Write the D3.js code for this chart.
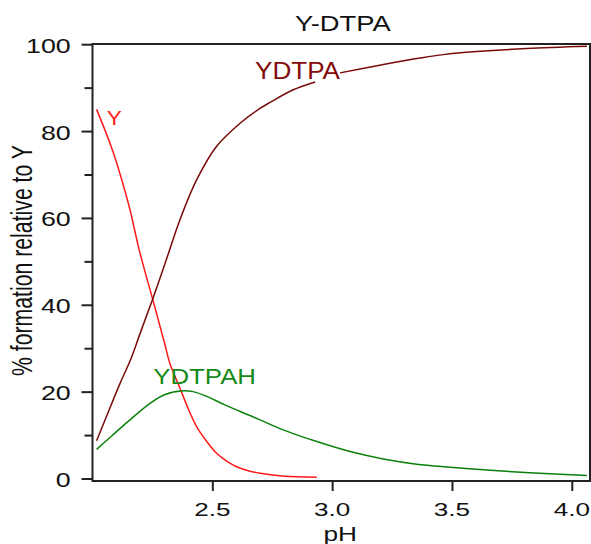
<!DOCTYPE html>
<html>
<head>
<meta charset="utf-8">
<script src="https://cdn.jsdelivr.net/npm/d3@7"></script>
<style>
  html, body { margin: 0; padding: 0; background: #fff; }
  svg { display: block; }
  text { font-family: "Liberation Sans", Arial, sans-serif; }
</style>
</head>
<body>
<svg id="chart" width="591" height="544"></svg>
<script>
// ---- data ----
const title = "Y-DTPA";
const xLabel = "pH";
const yLabel = "% formation relative to Y";
const xTicks = [2.5, 3.0, 3.5, 4.0];
const yTicks = [0, 20, 40, 60, 80, 100];
const yMinorTicks = [10, 30, 50, 70, 90];

const phY  = [2.017, 2.05, 2.087, 2.122, 2.156, 2.195, 2.251, 2.3, 2.323, 2.365, 2.4, 2.435, 2.48, 2.518, 2.56, 2.602, 2.65, 2.7, 2.8, 2.936];
const valY = [85, 80.5, 75, 68.8, 62, 52.6, 41.3, 31.3, 26.5, 20.8, 16, 11.9, 8.3, 5.8, 4.0, 2.7, 1.8, 1.2, 0.5, 0.3];

const phYDTPA  = [2.017, 2.06, 2.115, 2.16, 2.198, 2.251, 2.31, 2.365, 2.435, 2.518, 2.616, 2.699, 2.741, 2.838, 2.929, 2.98, 3.033, 3.214, 3.367, 3.464, 3.603, 3.812, 4.063];
const valYDTPA = [8.7, 14.5, 21.9, 27.5, 33.3, 41.3, 50.7, 59.6, 68.8, 76.5, 81.8, 85.2, 86.6, 89.5, 91.3, null, 93.4, 95.3, 96.8, 97.6, 98.3, 99.0, 99.5];

const phYDTPAH  = [2.017, 2.08, 2.156, 2.24, 2.3, 2.379, 2.42, 2.477, 2.55, 2.657, 2.699, 2.796, 2.936, 3.075, 3.214, 3.353, 3.492, 3.631, 3.771, 3.909, 4.063];
const valYDTPAH = [6.7, 9.8, 13.5, 17.3, 19.3, 20.2, 20.0, 18.9, 17.0, 14.5, 13.5, 11.2, 8.5, 6.2, 4.5, 3.3, 2.6, 2.0, 1.5, 1.1, 0.7];

const seriesNames = ["Y", "YDTPA", "YDTPAH"];

// ---- drawing ----
(function () {
const svg = d3.select("#chart");
const pLeft = 92.5, pRight = 590, pTop = 44, pBottom = 481;
const x = d3.scaleLinear().domain([2, 4.076]).range([pLeft, pRight]);
const y = d3.scaleLinear().domain([0, 100]).range([478.5, 44.2]);

const series = [
  { name: seriesNames[0], ph: phY, v: valY, color: "#ff1a1a", labelColor: "#ff2020" },
  { name: seriesNames[1], ph: phYDTPA, v: valYDTPA, color: "#7a0a0a", labelColor: "#820a0a" },
  { name: seriesNames[2], ph: phYDTPAH, v: valYDTPAH, color: "#0a820a", labelColor: "#168a16" }
];

const line = d3.line()
  .defined(d => d[1] !== null)
  .x(d => x(d[0]))
  .y(d => y(d[1]))
  .curve(d3.curveCatmullRom.alpha(0.5));

series.forEach(s => {
  const pts = s.ph.map((p, i) => [p, s.v[i]]);
  svg.append("path")
    .attr("d", line(pts))
    .attr("fill", "none")
    .attr("stroke", s.color)
    .attr("stroke-width", 1.5);
});

// frame
svg.append("rect")
  .attr("x", pLeft).attr("y", pTop)
  .attr("width", pRight - pLeft).attr("height", pBottom - pTop)
  .attr("fill", "none").attr("stroke", "#222").attr("stroke-width", 2);

// y axis ticks
const yAxis = d3.axisLeft(y).tickValues(yTicks).tickSize(11).tickFormat("");
const gy = svg.append("g").attr("transform", `translate(${pLeft},0)`).call(yAxis);
gy.select(".domain").remove();
gy.selectAll("line").attr("stroke", "#222").attr("stroke-width", 2);

const yMinor = d3.axisLeft(y).tickValues(yMinorTicks).tickSize(8).tickFormat("");
const gym = svg.append("g").attr("transform", `translate(${pLeft},0)`).call(yMinor);
gym.select(".domain").remove();
gym.selectAll("line").attr("stroke", "#222").attr("stroke-width", 2);

yTicks.forEach(t => {
  svg.append("text")
    .attr("transform", `translate(70.7,${y(t) + 8.5}) scale(1.34,1)`)
    .attr("text-anchor", "end")
    .attr("font-size", 20)
    .attr("fill", "#111")
    .text(d3.format("d")(t));
});

// x axis ticks
const xAxis = d3.axisBottom(x).tickValues(xTicks).tickSize(10).tickFormat("");
const gx = svg.append("g").attr("transform", `translate(0,${pBottom})`).call(xAxis);
gx.select(".domain").remove();
gx.selectAll("line").attr("stroke", "#222").attr("stroke-width", 2);

xTicks.forEach(t => {
  svg.append("text")
    .attr("transform", `translate(${x(t)},516) scale(1.45,1)`)
    .attr("text-anchor", "middle")
    .attr("font-size", 18)
    .attr("fill", "#111")
    .text(d3.format(".1f")(t));
});

// axis titles
svg.append("text")
  .attr("transform", `translate(340.3,541) scale(1.25,1)`)
  .attr("text-anchor", "middle")
  .attr("font-size", 21)
  .attr("fill", "#111")
  .text(xLabel);

svg.append("text")
  .attr("transform", `translate(31.5,260.5) scale(1.4,1) rotate(-90)`)
  .attr("text-anchor", "middle")
  .attr("font-size", 21.5)
  .attr("textLength", 231)
  .attr("lengthAdjust", "spacingAndGlyphs")
  .attr("fill", "#111")
  .text(yLabel);

// title
svg.append("text")
  .attr("x", 295).attr("y", 31)
  .attr("font-size", 21.5)
  .attr("textLength", 95.7)
  .attr("lengthAdjust", "spacingAndGlyphs")
  .attr("fill", "#111")
  .text(title);

// series labels
const labelSpecs = [
  { s: series[0], x: 106.7, y: 125, size: 20, w: 15 },
  { s: series[1], x: 255, y: 79.3, size: 23, w: 85 },
  { s: series[2], x: 153.3, y: 384, size: 21.5, w: 102.7 }
];
labelSpecs.forEach(l => {
  svg.append("text")
    .attr("x", l.x).attr("y", l.y)
    .attr("font-size", l.size)
    .attr("textLength", l.w)
    .attr("lengthAdjust", "spacingAndGlyphs")
    .attr("fill", l.s.labelColor)
    .text(l.s.name);
});
})();
</script>
</body>
</html>
